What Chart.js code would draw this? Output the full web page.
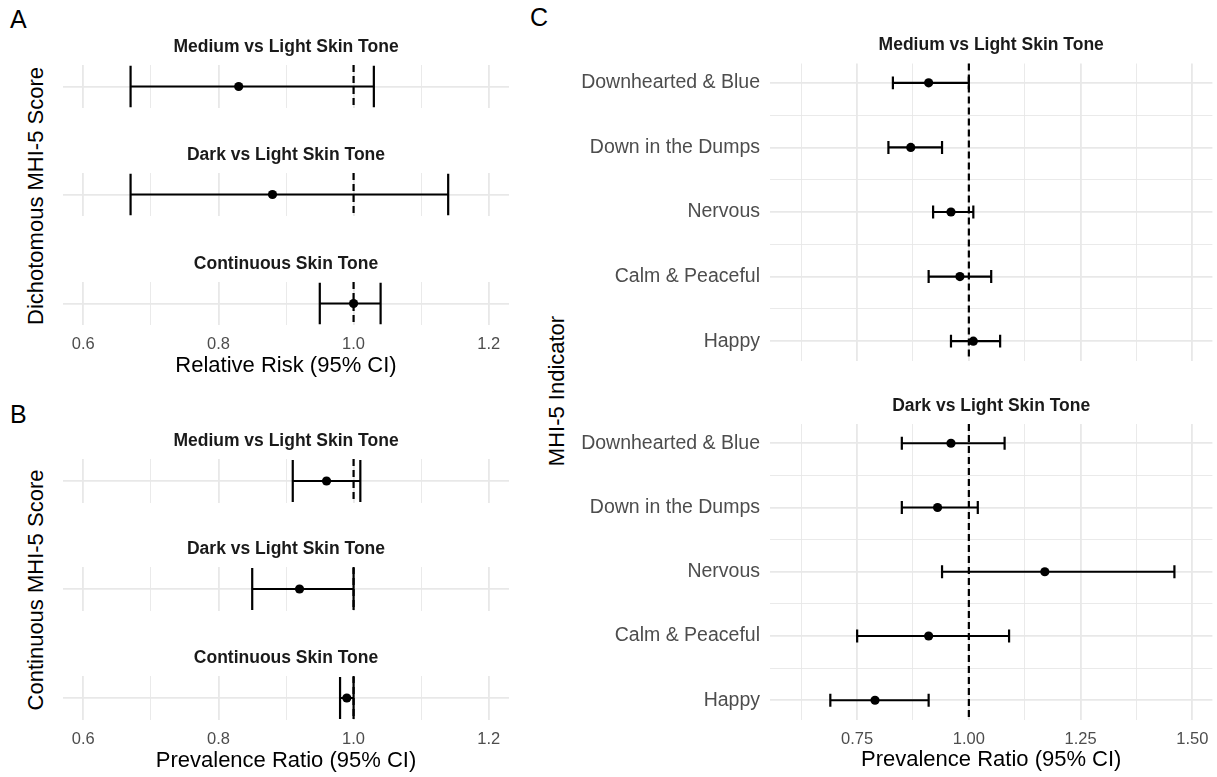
<!DOCTYPE html>
<html>
<head>
<meta charset="utf-8">
<script src="https://cdn.jsdelivr.net/npm/chart.js@4.4.1/dist/chart.umd.min.js"></script>
<style>
  body { margin: 0; background: #fff; }
  #wrap { position: relative; width: 1217px; height: 777px; overflow: hidden; font-family: "Liberation Sans", Arial, Helvetica, sans-serif; }
  #wrap canvas { position: absolute; left: 0; top: 0; }
  .tag { position: absolute; font-size: 25px; line-height: 1; color: #000; }
  .ytitle { position: absolute; font-size: 22px; line-height: 1; color: #000; white-space: nowrap; transform: translate(-50%, -50%) rotate(-90deg); }
</style>
</head>
<body>
<div id="wrap">
  <div class="tag" style="left:10px; top:7px;">A</div>
  <div class="tag" style="left:10px; top:402px;">B</div>
  <div class="tag" style="left:530px; top:5px;">C</div>
  <div class="ytitle" style="left:36px; top:195.5px;">Dichotomous MHI-5 Score</div>
  <div class="ytitle" style="left:36px; top:589.5px;">Continuous MHI-5 Score</div>
  <div class="ytitle" style="left:557px; top:391px;">MHI-5 Indicator</div>
</div>
<script>
// panels A and B: one row per facet
const facetsAB = ['Medium vs Light Skin Tone', 'Dark vs Light Skin Tone', 'Continuous Skin Tone'];
const rrEst = [0.83, 0.88, 1.00];
const rrLow = [0.67, 0.67, 0.95];
const rrHigh = [1.03, 1.14, 1.04];
const prEst = [0.96, 0.92, 0.99];
const prLow = [0.91, 0.85, 0.98];
const prHigh = [1.01, 1.00, 1.00];

// panel C
const facetsC = ['Medium vs Light Skin Tone', 'Dark vs Light Skin Tone'];
const indicators = ['Downhearted & Blue', 'Down in the Dumps', 'Nervous', 'Calm & Peaceful', 'Happy'];
const medEst = [0.91, 0.87, 0.96, 0.98, 1.01];
const medLow = [0.83, 0.82, 0.92, 0.91, 0.96];
const medHigh = [1.00, 0.94, 1.01, 1.05, 1.07];
const darkEst = [0.96, 0.93, 1.17, 0.91, 0.79];
const darkLow = [0.85, 0.85, 0.94, 0.75, 0.69];
const darkHigh = [1.08, 1.02, 1.46, 1.09, 0.91];

// tick values (minor ones get a grid line but no label)
const abTicks = [0.6, 0.7, 0.8, 0.9, 1.0, 1.1, 1.2];
const abMajor = [0.6, 0.8, 1.0, 1.2];
const cTicks = [0.625, 0.75, 0.875, 1.0, 1.125, 1.25, 1.375, 1.5];
const cMajor = [0.75, 1.0, 1.25, 1.5];
const refValue = 1;

const FONT = '"Liberation Sans", Arial, Helvetica, sans-serif';
Chart.defaults.font.family = FONT;
const W = 1217, H = 777;
const wrap = document.getElementById('wrap');

// dashed reference line, error bars and the facet strip title
const facetMarks = {
    id: 'facetMarks',
    beforeDatasetsDraw(chart, args, opts) {
        const {ctx, chartArea: area} = chart;
        const x = chart.scales.x, y = chart.scales.y;
        ctx.save();
        ctx.strokeStyle = '#000';
        ctx.lineWidth = 2.2;
        ctx.setLineDash([7, 4]);
        const rx = x.getPixelForValue(opts.ref);
        ctx.beginPath();
        ctx.moveTo(rx, area.top);
        ctx.lineTo(rx, area.bottom);
        ctx.stroke();
        ctx.setLineDash([]);

        chart.data.datasets.forEach((ds) => {
            ds.data.forEach((d, i) => {
                const py = y.getPixelForValue(d.y);
                const lo = x.getPixelForValue(ds.low[i]);
                const hi = x.getPixelForValue(ds.high[i]);
                const c1 = y.getPixelForValue(d.y - opts.cap);
                const c2 = y.getPixelForValue(d.y + opts.cap);
                ctx.beginPath();
                ctx.moveTo(lo, py); ctx.lineTo(hi, py);
                ctx.moveTo(lo, c1); ctx.lineTo(lo, c2);
                ctx.moveTo(hi, c1); ctx.lineTo(hi, c2);
                ctx.stroke();
            });
        });

        ctx.font = 'bold 17.5px ' + FONT;
        ctx.fillStyle = '#1a1a1a';
        ctx.textAlign = 'center';
        ctx.textBaseline = 'middle';
        ctx.fillText(opts.title, (area.left + area.right) / 2, area.top - 18);
        ctx.restore();
    }
};

function addFacet(area, s) {
    const canvas = document.createElement('canvas');
    canvas.width = W;
    canvas.height = H;
    wrap.appendChild(canvas);

    const yW = s.yLabels ? 200 : 0;
    const xH = s.xTitle ? 55 : 0;
    const majorX = (v) => s.xMajor.includes(v);
    const majorY = (v) => Number.isInteger(v);

    return new Chart(canvas, {
        type: 'scatter',
        data: {
            datasets: [{
                data: s.est.map((v, i) => ({x: v, y: s.rows[i]})),
                low: s.low,
                high: s.high,
                backgroundColor: '#000',
                borderColor: '#000',
                pointRadius: 4.6,
                pointBorderWidth: 0
            }]
        },
        options: {
            responsive: false,
            animation: false,
            events: [],
            layout: {
                padding: {left: area.left - yW, top: area.top, right: W - area.right, bottom: H - area.bottom - xH}
            },
            scales: {
                x: {
                    type: 'linear',
                    min: s.xMin,
                    max: s.xMax,
                    afterBuildTicks: (sc) => { sc.ticks = s.xTicks.map((v) => ({value: v})); },
                    afterFit: (sc) => { sc.height = xH; sc.paddingLeft = 0; sc.paddingRight = 0; },
                    ticks: {
                        display: !!s.xTitle,
                        autoSkip: false,
                        maxRotation: 0,
                        padding: 10,
                        color: '#4d4d4d',
                        font: {size: 16.5},
                        callback: (v) => majorX(v) ? v.toFixed(s.xDec) : ''
                    },
                    grid: {
                        drawTicks: false,
                        color: '#e8e8e8',
                        lineWidth: (c) => c.tick && majorX(c.tick.value) ? 1.8 : 0.9
                    },
                    border: {display: false},
                    title: {
                        display: !!s.xTitle,
                        text: s.xTitle || '',
                        color: '#000',
                        font: {size: 22},
                        padding: {top: 0, bottom: 1}
                    }
                },
                y: {
                    type: 'linear',
                    min: s.yMin,
                    max: s.yMax,
                    reverse: true,
                    afterBuildTicks: (sc) => { sc.ticks = s.yTicks.map((v) => ({value: v})); },
                    afterFit: (sc) => { sc.width = yW; sc.paddingTop = 0; sc.paddingBottom = 0; },
                    ticks: {
                        display: !!s.yLabels,
                        autoSkip: false,
                        padding: 10,
                        color: '#4d4d4d',
                        font: {size: 19.5},
                        callback: (v) => s.yLabels && majorY(v) ? s.yLabels[v] : ''
                    },
                    grid: {
                        drawTicks: false,
                        color: '#e8e8e8',
                        lineWidth: (c) => c.tick && majorY(c.tick.value) ? 1.8 : 0.9
                    },
                    border: {display: false}
                }
            },
            plugins: {
                legend: {display: false},
                tooltip: {enabled: false},
                facetMarks: {title: s.title, ref: refValue, cap: s.cap}
            }
        },
        plugins: [facetMarks]
    });
}

const abScale = {xMin: 0.57, xMax: 1.23, xTicks: abTicks, xMajor: abMajor, xDec: 1,
    yMin: -0.5, yMax: 0.5, yTicks: [0], rows: [0], cap: 0.48};
const aTops = [65, 173, 282];
const bTops = [459, 567, 676];

facetsAB.forEach((name, i) => {
    addFacet({left: 63, right: 509, top: aTops[i], bottom: aTops[i] + 43}, Object.assign({}, abScale, {
        title: name, est: [rrEst[i]], low: [rrLow[i]], high: [rrHigh[i]],
        xTitle: i === 2 ? 'Relative Risk (95% CI)' : null
    }));
    addFacet({left: 63, right: 509, top: bTops[i], bottom: bTops[i] + 44}, Object.assign({}, abScale, {
        title: name, est: [prEst[i]], low: [prLow[i]], high: [prHigh[i]],
        xTitle: i === 2 ? 'Prevalence Ratio (95% CI)' : null
    }));
});

const cScale = {xMin: 0.555, xMax: 1.545, xTicks: cTicks, xMajor: cMajor, xDec: 2,
    yMin: -0.3, yMax: 4.3, yTicks: [0, 0.5, 1, 1.5, 2, 2.5, 3, 3.5, 4], rows: [0, 1, 2, 3, 4],
    cap: 0.1, yLabels: indicators};

addFacet({left: 770, right: 1213, top: 63.5, bottom: 360.5}, Object.assign({}, cScale, {
    title: facetsC[0], est: medEst, low: medLow, high: medHigh, xTitle: null
}));
addFacet({left: 770, right: 1213, top: 424, bottom: 719.5}, Object.assign({}, cScale, {
    title: facetsC[1], est: darkEst, low: darkLow, high: darkHigh, xTitle: 'Prevalence Ratio (95% CI)'
}));
</script>
</body>
</html>
